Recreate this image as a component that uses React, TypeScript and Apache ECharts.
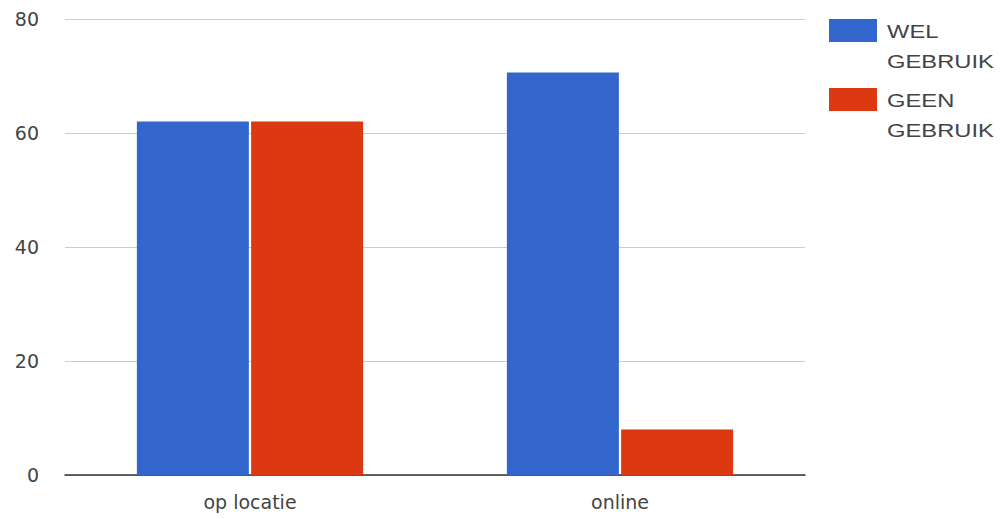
import React, { useEffect, useRef } from "react";
import * as echarts from "echarts";

const categories = ["op locatie", "online"];
const welGebruik = [62, 70.6];
const geenGebruik = [62, 8];
const seriesNames = ["WEL GEBRUIK", "GEEN GEBRUIK"];
const colors = ["#3366cc", "#dc3912"];

export default function App() {
  const ref = useRef<HTMLDivElement>(null);
  useEffect(() => {
    if (!ref.current) return;
    const chart = echarts.init(ref.current, null, { renderer: "svg" });
    const font = "'Liberation Sans', Arial, sans-serif";
    const axisFont = "'DejaVu Sans', sans-serif";
    const legendGraphics: any[] = [];
    seriesNames.forEach((name, i) => {
      const top = 19 + i * 69;
      legendGraphics.push({
        type: "rect",
        shape: { x: 829, y: top, width: 48, height: 23 },
        style: { fill: colors[i] },
      });
      legendGraphics.push({
        type: "text",
        x: 887,
        y: top - 2,
        scaleX: 1.32,
        style: {
          text: name.replace(" ", "\n"),
          font: `18px ${font}`,
          fill: "#444",
          lineHeight: 30,
          verticalAlign: "top",
        },
      });
    });
    chart.setOption({
      animation: false,
      backgroundColor: "#fff",
      grid: { left: 65, right: 200, top: 19, bottom: 44, containLabel: false },
      legend: { show: false },
      xAxis: {
        type: "category",
        data: categories,
        axisLine: { lineStyle: { color: "#333", width: 1.5 } },
        axisTick: { show: false },
        axisLabel: { color: "#444", fontSize: 19, fontFamily: axisFont, margin: 17 },
      },
      yAxis: {
        type: "value",
        min: 0,
        max: 80,
        interval: 20,
        axisLine: { show: false },
        axisTick: { show: false },
        splitLine: { lineStyle: { color: "#cccccc", width: 1 } },
        axisLabel: { color: "#444", fontSize: 19, fontFamily: axisFont, margin: 26 },
      },
      series: [
        {
          name: seriesNames[0],
          type: "bar",
          data: welGebruik,
          barWidth: 112,
          barGap: "2%",
          itemStyle: { color: colors[0] },
        },
        {
          name: seriesNames[1],
          type: "bar",
          data: geenGebruik,
          barWidth: 112,
          barGap: "2%",
          itemStyle: { color: colors[1] },
        },
      ],
      graphic: legendGraphics,
    });
    return () => chart.dispose();
  }, []);
  return <div ref={ref} style={{ width: 1005, height: 519, position: "absolute", left: 0, top: 0 }} />;
}
